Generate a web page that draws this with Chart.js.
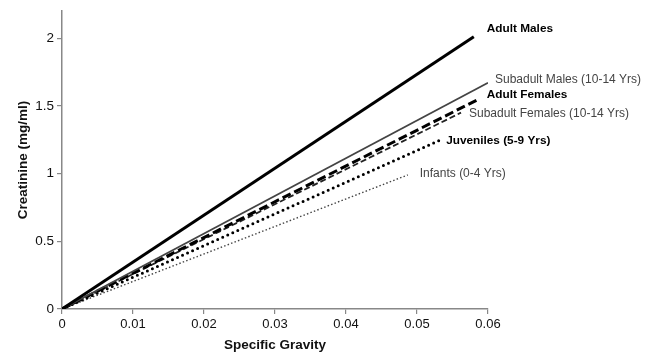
<!DOCTYPE html>
<html>
<head>
<meta charset="utf-8">
<script src="https://cdn.jsdelivr.net/npm/chart.js@4"></script>
<style>
  html, body { margin: 0; padding: 0; background: #fff; }
</style>
</head>
<body>
<canvas id="creatChart" width="655" height="355"></canvas>
<script>
// groups and regression end points (line starts at origin)
var groups = ['Adult Males', 'Subadult Males (10-14 Yrs)', 'Adult Females',
              'Subadult Females (10-14 Yrs)', 'Juveniles (5-9 Yrs)', 'Infants (0-4 Yrs)'];
var startSG = [0, 0, 0, 0, 0, 0];
var startCreat = [0, 0, 0, 0, 0, 0];
var endSG = [0.058, 0.06, 0.0587, 0.0562, 0.0534, 0.0487];
var endCreat = [2.01, 1.67, 1.55, 1.45, 1.25, 0.99];

// tick labels
var xTicks = [0, 0.01, 0.02, 0.03, 0.04, 0.05, 0.06];
var yTicks = [0, 0.5, 1, 1.5, 2];

// line styles per group
var styles = [
    { color: '#000', width: 3, dash: [], cap: 'butt' },
    { color: '#444', width: 1.7, dash: [], cap: 'butt' },
    { color: '#000', width: 3, dash: [9, 4], cap: 'butt' },
    { color: '#222', width: 1.8, dash: [6, 3], cap: 'butt' },
    { color: '#000', width: 3, dash: [0, 5.5], cap: 'round' },
    { color: '#444', width: 1.4, dash: [1.5, 2.2], cap: 'butt' }
];
// label look and offset from the end of each line
var labelStyles = [
    { bold: true, color: '#000', dx: 13, dy: -8 },
    { bold: false, color: '#444', dx: 7, dy: -3 },
    { bold: true, color: '#000', dx: 8, dy: -4 },
    { bold: false, color: '#444', dx: 8, dy: 1 },
    { bold: true, color: '#000', dx: 5, dy: 1 },
    { bold: false, color: '#444', dx: 12, dy: -1 }
];

var FONT = '"Liberation Sans", Arial, sans-serif';

var endLabels = {
    id: 'endLabels',
    afterDatasetsDraw: function (chart) {
        var ctx = chart.ctx;
        var xs = chart.scales.x, ys = chart.scales.y;
        ctx.save();
        ctx.textAlign = 'left';
        ctx.textBaseline = 'middle';
        groups.forEach(function (name, i) {
            var st = labelStyles[i];
            var px = xs.getPixelForValue(endSG[i]);
            var py = ys.getPixelForValue(endCreat[i]);
            ctx.font = (st.bold ? 'bold 11.8px ' : '12px ') + FONT;
            ctx.fillStyle = st.color;
            ctx.fillText(name, px + st.dx, py + st.dy);
        });
        ctx.restore();
    }
};

var ctx = document.getElementById('creatChart').getContext('2d');
new Chart(ctx, {
    type: 'scatter',
    data: {
        datasets: groups.map(function (name, i) {
            return {
                label: name,
                data: [{ x: startSG[i], y: startCreat[i] }, { x: endSG[i], y: endCreat[i] }],
                showLine: true,
                borderColor: styles[i].color,
                borderWidth: styles[i].width,
                borderDash: styles[i].dash,
                borderCapStyle: styles[i].cap,
                pointRadius: 0,
                fill: false
            };
        })
    },
    options: {
        responsive: false,
        animation: false,
        layout: { padding: { top: 7, right: 167, left: 0, bottom: 0 } },
        plugins: { legend: { display: false }, tooltip: { enabled: false } },
        scales: {
            x: {
                type: 'linear',
                min: 0,
                max: 0.06,
                afterBuildTicks: function (scale) {
                    scale.ticks = xTicks.map(function (v) { return { value: v }; });
                },
                afterFit: function (scale) { scale.height = 46; },
                grid: { drawOnChartArea: false, drawTicks: true, tickLength: 5, color: '#888', lineWidth: 1.2 },
                border: { color: '#888', width: 1.5 },
                ticks: {
                    color: '#111',
                    padding: 3,
                    maxRotation: 0,
                    font: { family: FONT, size: 13 },
                    callback: function (v) { return v === 0 ? '0' : Number(v).toFixed(2); }
                },
                title: {
                    display: true,
                    text: 'Specific Gravity',
                    color: '#111',
                    padding: { top: 0, bottom: 2 },
                    font: { family: FONT, size: 13.5, weight: 'bold' }
                }
            },
            y: {
                type: 'linear',
                min: 0,
                max: 2.2,
                afterBuildTicks: function (scale) {
                    scale.ticks = yTicks.map(function (v) { return { value: v }; });
                },
                afterFit: function (scale) { scale.width = 62; },
                grid: { drawOnChartArea: false, drawTicks: true, tickLength: 5, color: '#888', lineWidth: 1.2 },
                border: { color: '#888', width: 1.5 },
                ticks: {
                    color: '#111',
                    padding: 3,
                    font: { family: FONT, size: 13.5 },
                    callback: function (v) { return String(v); }
                },
                title: {
                    display: true,
                    text: 'Creatinine (mg/ml)',
                    color: '#111',
                    padding: { top: 15, bottom: 0 },
                    font: { family: FONT, size: 13.5, weight: 'bold' }
                }
            }
        }
    },
    plugins: [endLabels]
});
</script>
</body>
</html>
